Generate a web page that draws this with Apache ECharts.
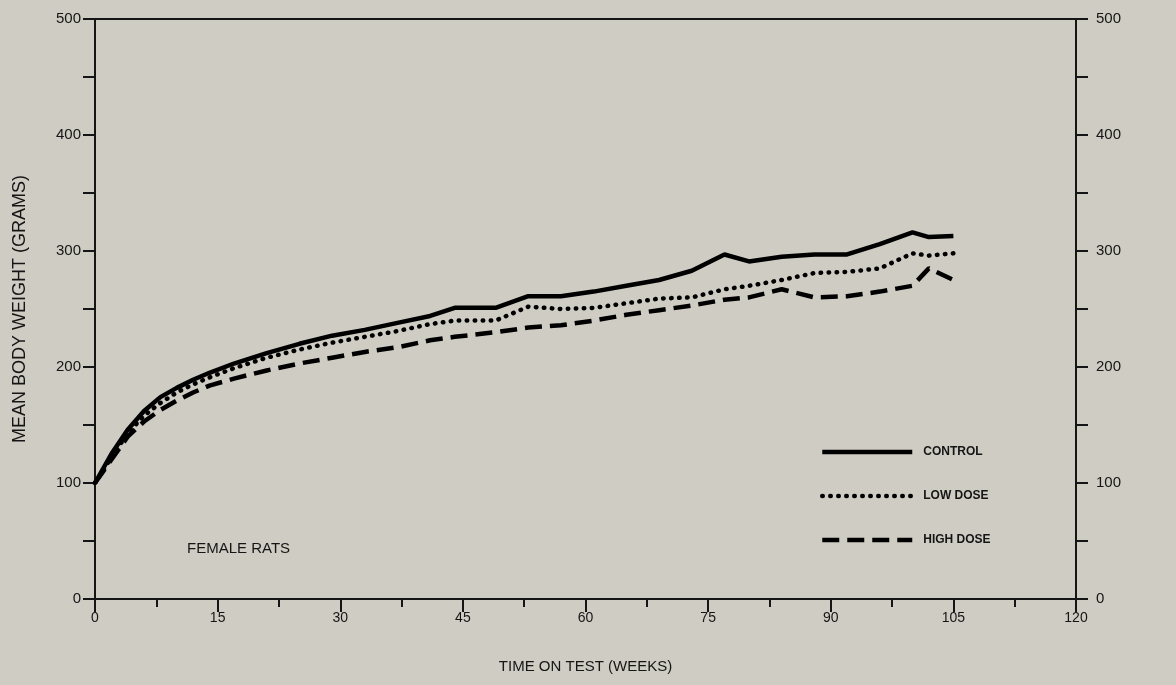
<!DOCTYPE html>
<html><head><meta charset="utf-8">
<script src="https://cdn.jsdelivr.net/npm/echarts@6/dist/echarts.min.js"></script>
<style>html,body{margin:0;padding:0;background:#cfccc3;}#c{width:1176px;height:685px;}</style>
</head><body><div id="c"></div>
<script>
const weeks = [0,2,4,6,8,10,12,14,17,21,25,29,33,37,41,44,49,53,57,61,65,69,73,77,80,84,88,92,96,100,102,105];
const control = [100,125,146,162,174,182,189,195,203,212,220,227,232,238,244,251,251,261,261,265,270,275,283,297,291,295,297,297,306,316,312,313];
const lowDose = [100,122,143,158,169,178,185,191,199,208,215,221,226,231,237,240,240,252,250,251,255,259,260,267,270,275,281,282,285,298,296,298];
const highDose = [100,120,140,153,163,171,178,184,190,197,203,208,213,217,223,226,230,234,236,240,245,249,253,258,260,267,260,261,265,270,285,275];
const seriesNames = ['CONTROL','LOW DOSE','HIGH DOSE'];
const yTicks = [0,100,200,300,400,500];
const xTicks = [0,15,30,45,60,75,90,105,120];

const pairs = arr => weeks.map((w,i)=>[w,arr[i]]);
const font = '"Liberation Sans", Arial, sans-serif';
const ink = '#151515';
const chart = echarts.init(document.getElementById('c'));
const yAxisBase = (pos) => ({
  type:'value', min:0, max:500, interval:100, position:pos,
  axisLine:{show:true, lineStyle:{color:ink, width:2}},
  axisTick:{show:true, inside:false, length:12, lineStyle:{color:ink, width:2}},
  minorTick:{show:true, splitNumber:2, length:12, lineStyle:{color:ink, width:2}},
  splitLine:{show:false},
  axisLabel:{color:ink, fontFamily:font, fontSize:15, margin: pos==='left' ? 14 : 20,
    formatter: v => yTicks.includes(v) ? String(v) : ''}
});
chart.setOption({
  backgroundColor:'#cfccc3',
  animation:false,
  grid:{left:95, right:100, top:19, bottom:86, show:true, borderColor:ink, borderWidth:2, backgroundColor:'transparent'},
  xAxis:{type:'value', min:0, max:120, interval:15,
    axisLine:{show:true, onZero:false, lineStyle:{color:ink, width:2}},
    axisTick:{show:true, length:13, lineStyle:{color:ink, width:2}},
    minorTick:{show:true, splitNumber:2, length:8, lineStyle:{color:ink, width:2}},
    splitLine:{show:false},
    axisLabel:{color:ink, fontFamily:font, fontSize:14, margin:12,
      formatter: v => xTicks.includes(v) ? String(v) : ''},
    name:'TIME ON TEST (WEEKS)', nameLocation:'middle', nameGap:60,
    nameTextStyle:{color:ink, fontFamily:font, fontSize:15}
  },
  yAxis:[
    Object.assign(yAxisBase('left'), {name:'MEAN BODY WEIGHT (GRAMS)', nameLocation:'middle', nameGap:66, nameRotate:90,
      nameTextStyle:{color:ink, fontFamily:font, fontSize:18}}),
    yAxisBase('right')
  ],
  legend:{
    left:815, top:441, orient:'vertical', itemWidth:90, itemHeight:14, itemGap:32,
    itemStyle:{opacity:0},
    lineStyle:{width:4.5},
    textStyle:{color:ink, fontFamily:font, fontSize:12, fontWeight:'bold', padding:[0,0,0,6]},
    data:seriesNames
  },
  graphic:[{type:'text', left:187, top:541, style:{text:'FEMALE RATS', fill:ink, font:'15px "Liberation Sans", Arial, sans-serif'}}],
  series:[
    {name:seriesNames[0], type:'line', data:pairs(control), symbol:'none', lineStyle:{color:'#000', width:4.5, type:'solid'}, itemStyle:{color:'#000'}},
    {name:seriesNames[1], type:'line', data:pairs(lowDose), symbol:'none', lineStyle:{color:'#000', width:4.5, type:[0.5,7.5], cap:'round'}, itemStyle:{color:'#000'}},
    {name:seriesNames[2], type:'line', data:pairs(highDose), symbol:'none', lineStyle:{color:'#000', width:4.5, type:[17,8]}, itemStyle:{color:'#000'}}
  ]
});
</script></body></html>
